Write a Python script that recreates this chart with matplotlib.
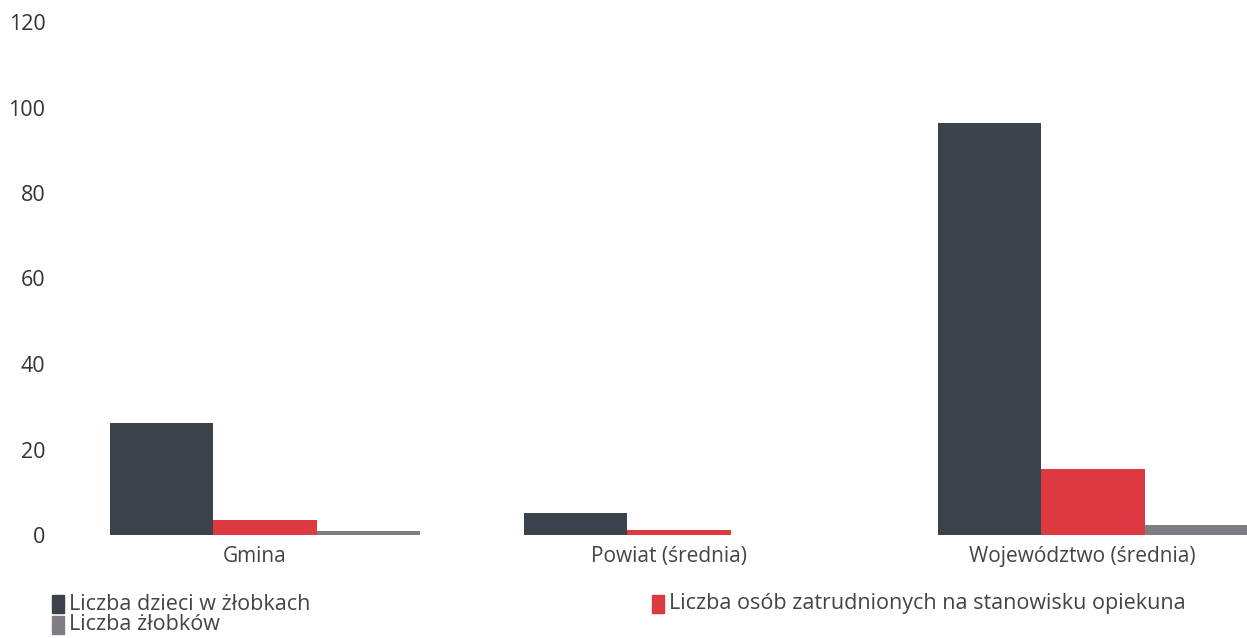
import matplotlib.pyplot as plt
import matplotlib.patches as mpatches
import numpy as np

# categories and series
categories = ["Gmina", "Powiat (średnia)", "Województwo (średnia)"]
dzieci = [26.2, 5.2, 96.3]
opiekunowie = [3.6, 1.1, 15.4]
zlobki = [0.9, 0.0, 2.3]
series_labels = ["Liczba dzieci w żłobkach",
                 "Liczba osób zatrudnionych na stanowisku opiekuna",
                 "Liczba żłobków"]
y_ticks = [0, 20, 40, 60, 80, 100, 120]

c_dark = "#3b424a"
c_red = "#dc3a40"
c_gray = "#7f7c83"
txt = "#444444"

plt.rcParams['font.family'] = ['Open Sans', 'DejaVu Sans']

W, H = 1247, 638
fig = plt.figure(figsize=(W / 100, H / 100), dpi=100)
ax = fig.add_axes([58 / W, 103 / H, (W - 58) / W, (535 - 22) / H])

x = np.arange(len(categories))
w = 0.25
ax.bar(x - w, dzieci, w, color=c_dark, align="center")
ax.bar(x, opiekunowie, w, color=c_red, align="center")
ax.bar(x + w, zlobki, w, color=c_gray, align="center")

ax.set_xlim(-0.5, 2 + (W - 1093) / 414)
ax.set_ylim(0, 120)
ax.set_yticks(y_ticks)
ax.set_yticklabels([str(t) for t in y_ticks], fontsize=15.5, color="#333333")
# labels sit a little left of the group centres in the original
ax.set_xticks(x - 0.025)
ax.set_xticklabels(categories, fontsize=15, color=txt)
ax.tick_params(axis="both", length=0)
ax.tick_params(axis="y", pad=9)
ax.tick_params(axis="x", pad=8)
for s in ax.spines.values():
    s.set_visible(False)

# legend drawn by hand: (colour, label, square left px, row centre px)
legend_items = [(c_dark, series_labels[0], 52, 604),
                (c_gray, series_labels[2], 52, 625),
                (c_red, series_labels[1], 652, 604)]
for col, lab, px, py in legend_items:
    fig.patches.append(mpatches.Rectangle((px / W, 1 - (py + 9) / H), 12 / W, 18 / H,
                                          transform=fig.transFigure, color=col))
    fig.text((px + 17) / W, 1 - py / H, lab, fontsize=15.5, color=txt,
             ha="left", va="center")

fig.savefig("out.png", dpi=100)
